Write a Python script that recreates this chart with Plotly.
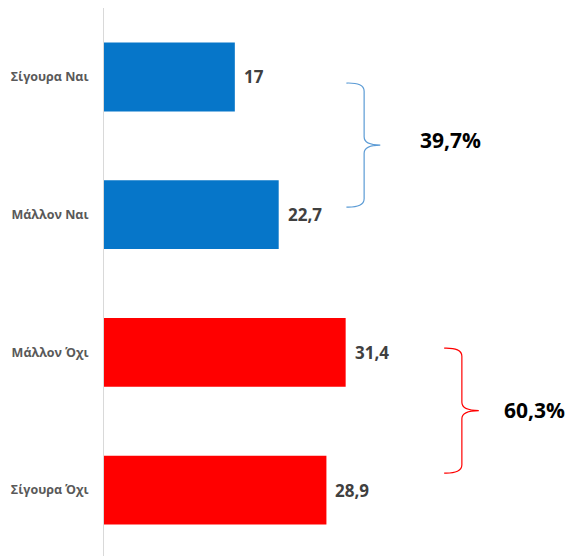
import plotly.graph_objects as go

# Survey answers and their shares (%)
categories = ["Σίγουρα Ναι", "Μάλλον Ναι", "Μάλλον Όχι", "Σίγουρα Όχι"]
values = [17, 22.7, 31.4, 28.9]
value_labels = ["17", "22,7", "31,4", "28,9"]
bar_colors = ["#0676C9", "#0676C9", "#FF0000", "#FF0000"]

# Group totals shown next to the braces
group_labels = ["39,7%", "60,3%"]
group_colors = ["#5B9BD5", "#FF0000"]

FONT = "Open Sans, Liberation Sans, Arial, sans-serif"

fig = go.Figure()
fig.add_trace(go.Bar(
    y=categories,
    x=values,
    orientation="h",
    marker=dict(color=bar_colors, line=dict(width=0)),
    width=0.5,
    hoverinfo="skip",
))

# Value labels just past the end of each bar
for cat, v, lab in zip(categories, values, value_labels):
    fig.add_annotation(
        x=v, y=cat, xref="x", yref="y", text=lab, showarrow=False,
        xanchor="left", yanchor="middle", xshift=7,
        font=dict(family=FONT, size=17, color="#404040", weight="bold"),
    )


def brace(x_tip, x_mid, x_point, y_top, y_bot, r=0.06):
    """Right-facing curly brace as an SVG path in data coordinates."""
    y_mid = (y_top + y_bot) / 2
    return (
        f"M {x_tip},{y_top} "
        f"Q {x_mid},{y_top - 0.004} {x_mid},{y_top + r} "
        f"L {x_mid},{y_mid - r} "
        f"Q {x_mid},{y_mid} {x_point},{y_mid} "
        f"Q {x_mid},{y_mid} {x_mid},{y_mid + r} "
        f"L {x_mid},{y_bot - r} "
        f"Q {x_mid},{y_bot + 0.004} {x_tip},{y_bot}"
    )


# Braces grouping the two "yes" and the two "no" answers
fig.add_shape(type="path", xref="x", yref="y",
              path=brace(31.5, 33.8, 35.9, 0.044, 0.945),
              line=dict(color=group_colors[0], width=1.2))
fig.add_shape(type="path", xref="x", yref="y",
              path=brace(44.2, 46.5, 48.7, 1.969, 2.877),
              line=dict(color=group_colors[1], width=1.2))

fig.add_annotation(x=45.0, y=0.458, xref="x", yref="y", text=group_labels[0],
                   showarrow=False, xanchor="center", yanchor="middle",
                   font=dict(family=FONT, size=21, color="#000000", weight="bold"))
fig.add_annotation(x=56.0, y=2.42, xref="x", yref="y", text=group_labels[1],
                   showarrow=False, xanchor="center", yanchor="middle",
                   font=dict(family=FONT, size=21, color="#000000", weight="bold"))

fig.update_layout(
    width=565, height=556,
    margin=dict(l=104, r=0, t=8, b=0),
    paper_bgcolor="white", plot_bgcolor="white",
    showlegend=False,
    xaxis=dict(range=[0, 59.9], visible=False, fixedrange=True),
    yaxis=dict(
        range=[3.479, -0.501],
        showline=True, linecolor="#D9D9D9", linewidth=1,
        showgrid=False, zeroline=False, ticks="",
        ticklabelstandoff=12,
        tickfont=dict(family=FONT, size=12.5, color="#595959", weight="bold"),
        fixedrange=True,
    ),
)

fig.write_html("out.html")
